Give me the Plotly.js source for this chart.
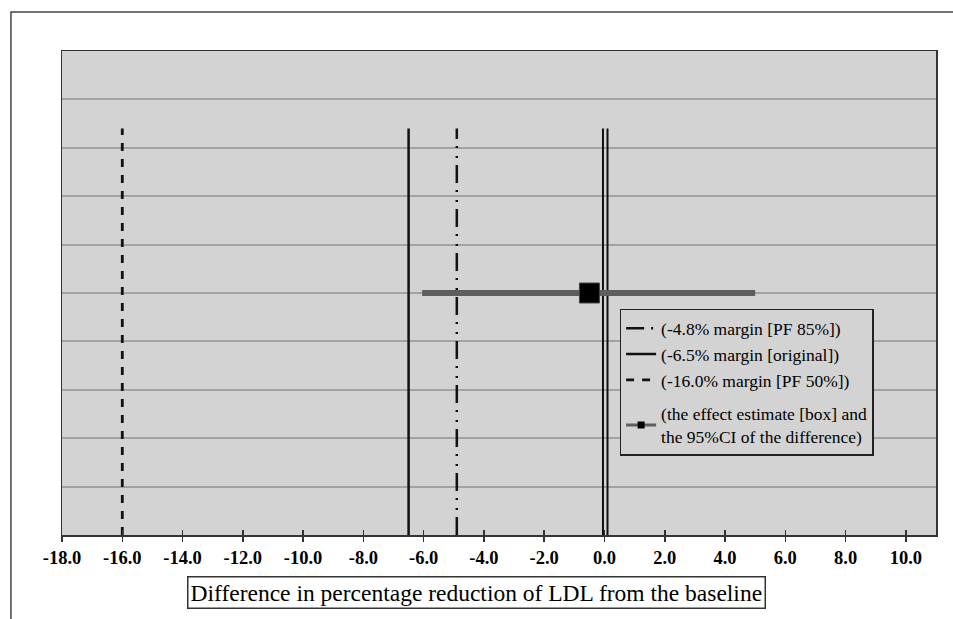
<!DOCTYPE html>
<html>
<head>
<meta charset="utf-8">
<script src="https://cdn.plot.ly/plotly-3.0.1.min.js"></script>
<style>html,body{margin:0;padding:0;background:#fff;}#chart{width:953px;height:619px;}</style>
</head>
<body>
<div id="chart"></div>
<script>
// ---- data ----
var marginLabels = ['(-4.8% margin [PF 85%])', '(-6.5% margin [original])', '(-16.0% margin [PF 50%])'];
var marginX = [-4.9, -6.5, -16.0];
var marginTop = 8.4;
var zeroLinesX = [-0.05, 0.1];
var ciLow = -6.05;
var ciHigh = 5.0;
var estimate = -0.5;
var estimateY = 5;
var ciLabel = '(the effect estimate [box] and<br>the 95%CI of the difference)';
var tickVals = [-18, -16, -14, -12, -10, -8, -6, -4, -2, 0, 2, 4, 6, 8, 10];
var tickLabels = ['-18.0', '-16.0', '-14.0', '-12.0', '-10.0', '-8.0', '-6.0', '-4.0', '-2.0', '0.0', '2.0', '4.0', '6.0', '8.0', '10.0'];
var xTitle = 'Difference in percentage reduction of LDL from the baseline';

// ---- styles ----
var dashStyles = ['18px,7px,2px,8px,2px,7px', 'solid', '8px,8px'];
var widths = [2.5, 2.5, 2.8];
var serif = 'Liberation Serif, Times New Roman, serif';

var traces = [];
for (var i = 0; i < marginX.length; i++) {
  traces.push({
    type: 'scatter', mode: 'lines',
    x: [marginX[i], marginX[i]], y: [0, marginTop],
    line: {color: '#111', width: widths[i], dash: dashStyles[i]},
    name: marginLabels[i], legendgroup: 'margins', legendrank: i + 1,
    showlegend: true
  });
}
for (var j = 0; j < zeroLinesX.length; j++) {
  traces.push({
    type: 'scatter', mode: 'lines',
    x: [zeroLinesX[j], zeroLinesX[j]], y: [0, marginTop],
    line: {color: '#111', width: 2}, showlegend: false
  });
}
traces.push({
  type: 'scatter', mode: 'lines',
  x: [ciLow, ciHigh], y: [estimateY, estimateY],
  line: {color: '#5e5e5e', width: 6}, showlegend: false
});
traces.push({
  type: 'scatter', mode: 'markers',
  x: [estimate], y: [estimateY],
  marker: {symbol: 'square', size: 20, color: '#000', line: {color: '#444', width: 1}},
  showlegend: false
});
// legend-only entry for CI
traces.push({
  type: 'scatter', mode: 'lines+markers',
  x: [null], y: [null],
  line: {color: '#5e5e5e', width: 3},
  marker: {symbol: 'square', size: 7, color: '#000'},
  name: ciLabel, legendgroup: 'ci', legendrank: 4, showlegend: true
});
// overlay axis trace for inside ticks
traces.push({
  type: 'scatter', mode: 'markers', x: [null], y: [null], xaxis: 'x2', showlegend: false
});

var layout = {
  width: 953, height: 619,
  margin: {l: 62, r: 17, t: 51, b: 84},
  paper_bgcolor: '#ffffff',
  plot_bgcolor: '#d3d3d3',
  showlegend: true,
  font: {family: serif, color: '#000'},
  xaxis: {
    range: [-18, 11], tickmode: 'array', tickvals: tickVals, ticktext: tickLabels,
    ticks: 'outside', ticklen: 5, tickwidth: 1.5, tickcolor: '#333',
    showgrid: false, zeroline: false,
    showline: true, linecolor: '#333', linewidth: 1.5, mirror: true,
    tickfont: {family: serif, size: 18.5, color: '#000', weight: 'bold'}
  },
  xaxis2: {
    range: [-18, 11], overlaying: 'x', side: 'bottom', tickmode: 'array', tickvals: tickVals,
    ticks: 'inside', ticklen: 5, tickwidth: 1.5, tickcolor: '#333',
    showticklabels: false, showgrid: false, zeroline: false, showline: false
  },
  yaxis: {
    range: [0, 10], dtick: 1, tick0: 0,
    showticklabels: false, ticks: '',
    showgrid: true, gridcolor: '#a2a2a2', gridwidth: 2,
    zeroline: false, showline: true, linecolor: '#333', linewidth: 1.5, mirror: true
  },
  legend: {
    x: 0.638, y: 0.467, xanchor: 'left', yanchor: 'top',
    bgcolor: '#d3d3d3', bordercolor: '#222', borderwidth: 1.5,
    font: {family: serif, size: 17.5, color: '#000'},
    traceorder: 'grouped', tracegroupgap: 8
  },
  annotations: [{
    text: xTitle, xref: 'paper', yref: 'paper', x: 0.474, y: -0.1178,
    xanchor: 'center', yanchor: 'middle', showarrow: false,
    font: {family: serif, size: 23.5, color: '#000'},
    bordercolor: '#333', borderwidth: 1.5, borderpad: 2, bgcolor: '#fff'
  }],
  shapes: [{
    type: 'rect', xref: 'paper', yref: 'paper',
    x0: -0.0584, x1: 1.06, y0: -0.3, y1: 1.0806,
    line: {color: '#444', width: 1.5}, fillcolor: 'rgba(0,0,0,0)', layer: 'below'
  }]
};

Plotly.newPlot('chart', traces, layout, {staticPlot: true, displayModeBar: false});
</script>
</body>
</html>
